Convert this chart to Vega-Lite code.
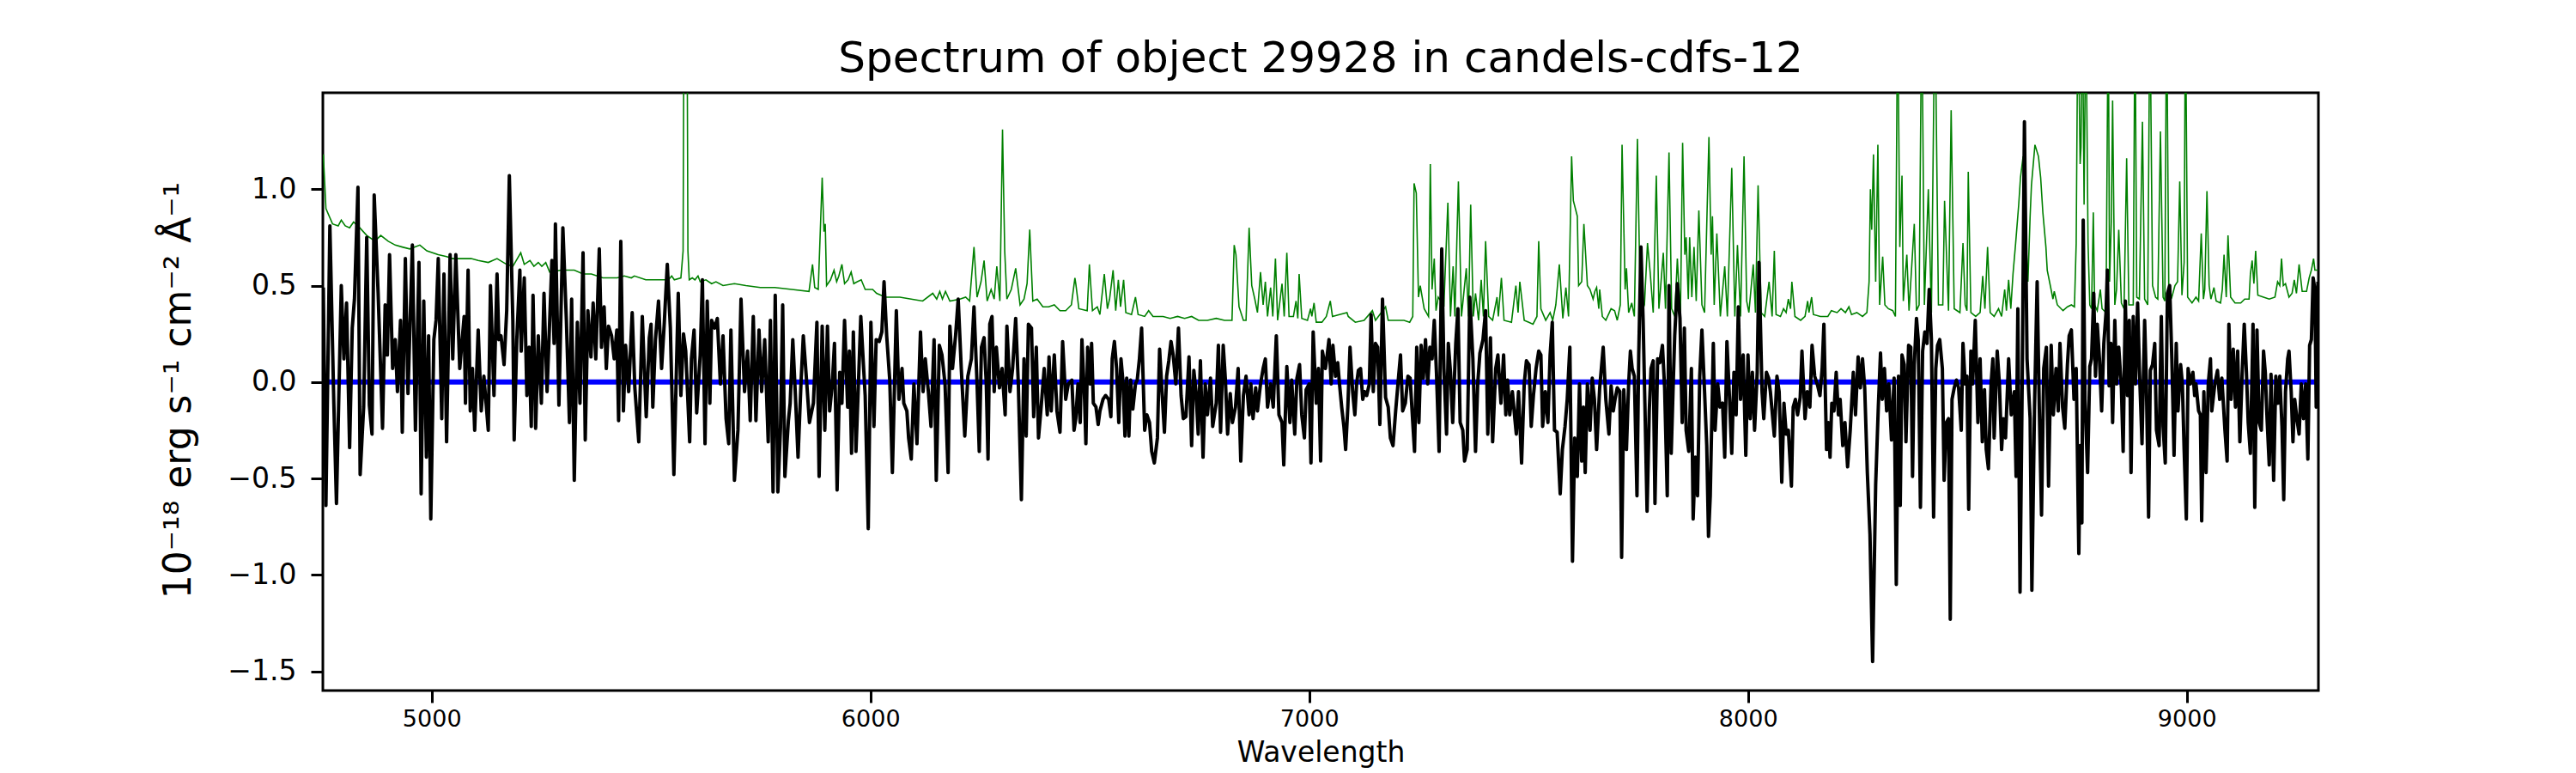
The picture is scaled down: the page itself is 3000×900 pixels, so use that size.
{
  "$schema": "https://vega.github.io/schema/vega-lite/v6.json",
  "autosize": {"type": "none"},
  "padding": {"left": 376, "top": 108, "right": 300, "bottom": 96},
  "width": 2324,
  "height": 696,
  "background": "white",
  "title": {
    "text": "Spectrum of object 29928 in candels-cdfs-12",
    "font": "DejaVu Sans",
    "fontSize": 50,
    "fontWeight": "normal",
    "color": "black",
    "frame": "group",
    "anchor": "middle",
    "baseline": "alphabetic",
    "offset": -26
  },
  "datasets": {
    "flux": [
      {"wl":4753,"flux":0.49},{"wl":4759,"flux":-0.64},{"wl":4768,"flux":0.81},{"wl":4777,"flux":-0.11},{"wl":4783,"flux":-0.63},
      {"wl":4794,"flux":0.50},{"wl":4800,"flux":0.12},{"wl":4806,"flux":0.41},{"wl":4813,"flux":-0.34},{"wl":4819,"flux":0.28},
      {"wl":4824,"flux":0.43},{"wl":4832,"flux":1.01},{"wl":4837,"flux":-0.48},{"wl":4845,"flux":-0.13},{"wl":4852,"flux":0.75},
      {"wl":4858,"flux":-0.12},{"wl":4864,"flux":-0.27},{"wl":4869,"flux":0.97},{"wl":4878,"flux":0.46},{"wl":4888,"flux":-0.24},
      {"wl":4894,"flux":0.40},{"wl":4899,"flux":0.14},{"wl":4904,"flux":0.66},{"wl":4911,"flux":0.07},{"wl":4917,"flux":0.22},
      {"wl":4922,"flux":-0.05},{"wl":4929,"flux":0.32},{"wl":4933,"flux":-0.26},{"wl":4940,"flux":0.64},{"wl":4946,"flux":-0.06},
      {"wl":4956,"flux":0.71},{"wl":4963,"flux":-0.25},{"wl":4971,"flux":0.62},{"wl":4976,"flux":-0.58},{"wl":4982,"flux":0.42},
      {"wl":4988,"flux":-0.39},{"wl":4993,"flux":0.24},{"wl":4998,"flux":-0.71},{"wl":5005,"flux":0.22},{"wl":5010,"flux":0.32},
      {"wl":5015,"flux":0.64},{"wl":5023,"flux":-0.19},{"wl":5028,"flux":0.56},{"wl":5034,"flux":-0.31},{"wl":5042,"flux":0.66},
      {"wl":5048,"flux":0.12},{"wl":5055,"flux":0.66},{"wl":5064,"flux":0.07},{"wl":5074,"flux":0.34},{"wl":5077,"flux":-0.11},
      {"wl":5083,"flux":0.58},{"wl":5088,"flux":-0.15},{"wl":5093,"flux":0.07},{"wl":5098,"flux":-0.25},{"wl":5106,"flux":0.27},
      {"wl":5113,"flux":-0.15},{"wl":5119,"flux":0.03},{"wl":5129,"flux":-0.25},{"wl":5134,"flux":0.50},{"wl":5142,"flux":-0.07},
      {"wl":5149,"flux":0.56},{"wl":5153,"flux":0.22},{"wl":5158,"flux":0.24},{"wl":5165,"flux":0.09},{"wl":5171,"flux":0.37},
      {"wl":5177,"flux":1.07},{"wl":5185,"flux":0.32},{"wl":5188,"flux":-0.30},{"wl":5194,"flux":0.22},{"wl":5201,"flux":0.58},
      {"wl":5204,"flux":0.16},{"wl":5211,"flux":0.54},{"wl":5217,"flux":-0.07},{"wl":5222,"flux":0.18},{"wl":5227,"flux":-0.23},
      {"wl":5231,"flux":0.45},{"wl":5237,"flux":-0.24},{"wl":5243,"flux":0.24},{"wl":5250,"flux":-0.11},{"wl":5256,"flux":0.46},
      {"wl":5263,"flux":-0.05},{"wl":5269,"flux":0.32},{"wl":5274,"flux":0.63},{"wl":5279,"flux":0.20},{"wl":5282,"flux":0.82},
      {"wl":5290,"flux":-0.12},{"wl":5299,"flux":0.80},{"wl":5307,"flux":0.32},{"wl":5314,"flux":-0.21},{"wl":5319,"flux":0.43},
      {"wl":5325,"flux":-0.51},{"wl":5332,"flux":0.31},{"wl":5338,"flux":-0.11},{"wl":5345,"flux":0.67},{"wl":5350,"flux":-0.30},
      {"wl":5356,"flux":0.37},{"wl":5363,"flux":0.13},{"wl":5368,"flux":0.41},{"wl":5374,"flux":0.12},{"wl":5382,"flux":0.69},
      {"wl":5387,"flux":0.18},{"wl":5393,"flux":0.39},{"wl":5398,"flux":0.07},{"wl":5403,"flux":0.29},{"wl":5410,"flux":0.24},
      {"wl":5416,"flux":0.12},{"wl":5422,"flux":0.27},{"wl":5426,"flux":-0.20},{"wl":5431,"flux":0.73},{"wl":5437,"flux":-0.15},
      {"wl":5442,"flux":0.19},{"wl":5449,"flux":-0.05},{"wl":5457,"flux":0.36},{"wl":5463,"flux":-0.03},{"wl":5472,"flux":-0.31},
      {"wl":5480,"flux":0.34},{"wl":5489,"flux":-0.18},{"wl":5496,"flux":0.23},{"wl":5500,"flux":0.30},{"wl":5504,"flux":-0.13},
      {"wl":5510,"flux":0.22},{"wl":5517,"flux":0.42},{"wl":5524,"flux":0.07},{"wl":5530,"flux":0.30},{"wl":5537,"flux":0.61},
      {"wl":5544,"flux":0.28},{"wl":5552,"flux":-0.48},{"wl":5562,"flux":0.46},{"wl":5568,"flux":-0.07},{"wl":5574,"flux":0.25},
      {"wl":5579,"flux":0.16},{"wl":5588,"flux":-0.31},{"wl":5592,"flux":0.12},{"wl":5598,"flux":0.27},{"wl":5604,"flux":-0.16},
      {"wl":5612,"flux":0.14},{"wl":5617,"flux":0.53},{"wl":5623,"flux":-0.32},{"wl":5628,"flux":0.42},{"wl":5634,"flux":-0.11},
      {"wl":5638,"flux":0.32},{"wl":5645,"flux":0.28},{"wl":5651,"flux":0.33},{"wl":5658,"flux":-0.01},{"wl":5664,"flux":0.24},
      {"wl":5671,"flux":-0.19},{"wl":5677,"flux":-0.32},{"wl":5682,"flux":0.27},{"wl":5690,"flux":-0.51},{"wl":5698,"flux":-0.25},
      {"wl":5705,"flux":0.43},{"wl":5713,"flux":-0.05},{"wl":5720,"flux":0.16},{"wl":5726,"flux":-0.20},{"wl":5733,"flux":0.34},
      {"wl":5739,"flux":-0.20},{"wl":5746,"flux":0.27},{"wl":5752,"flux":-0.05},{"wl":5759,"flux":0.22},{"wl":5767,"flux":-0.31},
      {"wl":5772,"flux":0.32},{"wl":5778,"flux":-0.57},{"wl":5783,"flux":0.45},{"wl":5789,"flux":-0.57},{"wl":5795,"flux":-0.24},
      {"wl":5800,"flux":0.40},{"wl":5805,"flux":-0.49},{"wl":5813,"flux":-0.20},{"wl":5817,"flux":-0.11},{"wl":5823,"flux":0.22},
      {"wl":5829,"flux":-0.07},{"wl":5835,"flux":-0.39},{"wl":5842,"flux":0.01},{"wl":5847,"flux":0.24},{"wl":5855,"flux":-0.01},
      {"wl":5861,"flux":-0.21},{"wl":5870,"flux":-0.11},{"wl":5878,"flux":0.31},{"wl":5883,"flux":-0.49},{"wl":5890,"flux":0.29},
      {"wl":5896,"flux":-0.25},{"wl":5902,"flux":0.29},{"wl":5907,"flux":-0.15},{"wl":5913,"flux":-0.01},{"wl":5918,"flux":0.20},
      {"wl":5924,"flux":-0.56},{"wl":5930,"flux":0.05},{"wl":5935,"flux":-0.11},{"wl":5941,"flux":0.32},{"wl":5948,"flux":-0.13},
      {"wl":5952,"flux":0.16},{"wl":5957,"flux":-0.37},{"wl":5961,"flux":0.26},{"wl":5967,"flux":-0.36},{"wl":5972,"flux":-0.05},
      {"wl":5978,"flux":0.34},{"wl":5984,"flux":0.09},{"wl":5988,"flux":-0.07},{"wl":5995,"flux":-0.76},{"wl":6001,"flux":0.31},
      {"wl":6008,"flux":-0.23},{"wl":6013,"flux":0.22},{"wl":6020,"flux":0.21},{"wl":6026,"flux":0.26},{"wl":6031,"flux":0.52},
      {"wl":6037,"flux":0.24},{"wl":6044,"flux":0.01},{"wl":6050,"flux":-0.47},{"wl":6059,"flux":0.37},{"wl":6065,"flux":-0.09},
      {"wl":6072,"flux":0.07},{"wl":6076,"flux":-0.11},{"wl":6083,"flux":-0.15},{"wl":6087,"flux":-0.29},{"wl":6093,"flux":-0.40},
      {"wl":6099,"flux":-0.01},{"wl":6106,"flux":-0.32},{"wl":6114,"flux":0.26},{"wl":6120,"flux":-0.05},{"wl":6125,"flux":0.12},
      {"wl":6132,"flux":-0.05},{"wl":6138,"flux":-0.23},{"wl":6145,"flux":0.22},{"wl":6150,"flux":-0.51},{"wl":6157,"flux":0.19},
      {"wl":6163,"flux":0.14},{"wl":6170,"flux":-0.01},{"wl":6177,"flux":-0.47},{"wl":6181,"flux":0.29},{"wl":6187,"flux":0.07},
      {"wl":6194,"flux":0.24},{"wl":6200,"flux":0.43},{"wl":6207,"flux":0.07},{"wl":6215,"flux":-0.28},{"wl":6222,"flux":0.03},
      {"wl":6230,"flux":0.12},{"wl":6236,"flux":0.39},{"wl":6243,"flux":-0.01},{"wl":6248,"flux":-0.36},{"wl":6253,"flux":0.18},
      {"wl":6259,"flux":0.23},{"wl":6264,"flux":-0.01},{"wl":6268,"flux":-0.40},{"wl":6272,"flux":0.30},{"wl":6277,"flux":0.34},
      {"wl":6282,"flux":-0.05},{"wl":6287,"flux":0.18},{"wl":6294,"flux":-0.03},{"wl":6300,"flux":0.07},{"wl":6307,"flux":-0.17},
      {"wl":6311,"flux":0.29},{"wl":6318,"flux":-0.05},{"wl":6324,"flux":0.07},{"wl":6331,"flux":0.33},{"wl":6337,"flux":-0.01},
      {"wl":6344,"flux":-0.61},{"wl":6350,"flux":0.12},{"wl":6355,"flux":-0.28},{"wl":6360,"flux":0.30},{"wl":6367,"flux":0.28},
      {"wl":6372,"flux":-0.18},{"wl":6378,"flux":0.18},{"wl":6383,"flux":-0.29},{"wl":6389,"flux":-0.13},{"wl":6396,"flux":0.07},
      {"wl":6403,"flux":-0.17},{"wl":6407,"flux":0.13},{"wl":6412,"flux":-0.15},{"wl":6419,"flux":0.14},{"wl":6425,"flux":-0.15},
      {"wl":6432,"flux":-0.26},{"wl":6438,"flux":0.21},{"wl":6445,"flux":-0.09},{"wl":6451,"flux":-0.01},{"wl":6459,"flux":0.01},
      {"wl":6464,"flux":-0.25},{"wl":6468,"flux":-0.19},{"wl":6473,"flux":-0.01},{"wl":6478,"flux":-0.21},{"wl":6482,"flux":0.22},
      {"wl":6488,"flux":-0.09},{"wl":6491,"flux":-0.32},{"wl":6495,"flux":0.18},{"wl":6501,"flux":-0.01},{"wl":6504,"flux":0.20},
      {"wl":6508,"flux":-0.11},{"wl":6514,"flux":-0.13},{"wl":6519,"flux":-0.22},{"wl":6523,"flux":-0.15},{"wl":6530,"flux":-0.09},
      {"wl":6536,"flux":-0.07},{"wl":6543,"flux":-0.09},{"wl":6548,"flux":-0.18},{"wl":6551,"flux":0.12},{"wl":6556,"flux":0.21},
      {"wl":6561,"flux":0.07},{"wl":6566,"flux":-0.21},{"wl":6571,"flux":0.12},{"wl":6576,"flux":-0.01},{"wl":6580,"flux":-0.28},
      {"wl":6584,"flux":0.02},{"wl":6589,"flux":-0.28},{"wl":6593,"flux":0.01},{"wl":6598,"flux":-0.14},{"wl":6604,"flux":-0.01},
      {"wl":6608,"flux":0.01},{"wl":6613,"flux":0.12},{"wl":6618,"flux":0.28},{"wl":6625,"flux":-0.25},{"wl":6630,"flux":-0.17},
      {"wl":6636,"flux":-0.21},{"wl":6641,"flux":-0.36},{"wl":6647,"flux":-0.42},{"wl":6654,"flux":-0.29},{"wl":6659,"flux":0.17},
      {"wl":6665,"flux":-0.07},{"wl":6670,"flux":-0.26},{"wl":6675,"flux":0.03},{"wl":6680,"flux":0.11},{"wl":6685,"flux":0.21},
      {"wl":6690,"flux":0.14},{"wl":6696,"flux":-0.01},{"wl":6702,"flux":0.28},{"wl":6708,"flux":-0.07},{"wl":6713,"flux":-0.19},
      {"wl":6719,"flux":-0.18},{"wl":6726,"flux":0.13},{"wl":6732,"flux":-0.33},{"wl":6737,"flux":0.06},{"wl":6742,"flux":-0.05},
      {"wl":6747,"flux":-0.27},{"wl":6752,"flux":0.11},{"wl":6758,"flux":-0.39},{"wl":6763,"flux":-0.01},{"wl":6768,"flux":-0.17},
      {"wl":6775,"flux":0.02},{"wl":6780,"flux":-0.23},{"wl":6788,"flux":-0.11},{"wl":6793,"flux":0.19},{"wl":6798,"flux":-0.26},
      {"wl":6804,"flux":0.19},{"wl":6809,"flux":0.01},{"wl":6814,"flux":-0.27},{"wl":6820,"flux":-0.06},{"wl":6825,"flux":-0.21},
      {"wl":6832,"flux":-0.13},{"wl":6838,"flux":0.07},{"wl":6844,"flux":-0.41},{"wl":6850,"flux":-0.07},{"wl":6856,"flux":0.03},
      {"wl":6863,"flux":-0.17},{"wl":6867,"flux":-0.01},{"wl":6872,"flux":-0.19},{"wl":6878,"flux":-0.03},{"wl":6882,"flux":-0.15},
      {"wl":6889,"flux":-0.01},{"wl":6895,"flux":0.07},{"wl":6900,"flux":0.12},{"wl":6905,"flux":-0.13},{"wl":6912,"flux":-0.01},
      {"wl":6918,"flux":-0.13},{"wl":6925,"flux":0.24},{"wl":6931,"flux":-0.17},{"wl":6938,"flux":-0.21},{"wl":6942,"flux":-0.43},
      {"wl":6949,"flux":0.08},{"wl":6956,"flux":-0.21},{"wl":6960,"flux":0.01},{"wl":6967,"flux":-0.27},{"wl":6972,"flux":0.02},
      {"wl":6978,"flux":0.09},{"wl":6983,"flux":-0.17},{"wl":6989,"flux":-0.29},{"wl":6993,"flux":-0.04},{"wl":7000,"flux":-0.01},
      {"wl":7004,"flux":-0.42},{"wl":7009,"flux":0.26},{"wl":7016,"flux":-0.11},{"wl":7021,"flux":0.07},{"wl":7026,"flux":-0.41},
      {"wl":7030,"flux":0.16},{"wl":7037,"flux":0.07},{"wl":7040,"flux":0.12},{"wl":7045,"flux":0.22},{"wl":7050,"flux":-0.01},
      {"wl":7054,"flux":0.19},{"wl":7060,"flux":0.03},{"wl":7065,"flux":0.10},{"wl":7069,"flux":-0.01},{"wl":7074,"flux":-0.13},
      {"wl":7079,"flux":-0.23},{"wl":7083,"flux":-0.35},{"wl":7088,"flux":-0.13},{"wl":7093,"flux":0.18},{"wl":7099,"flux":-0.05},
      {"wl":7104,"flux":-0.17},{"wl":7108,"flux":-0.01},{"wl":7112,"flux":0.06},{"wl":7117,"flux":0.07},{"wl":7122,"flux":-0.09},
      {"wl":7126,"flux":-0.05},{"wl":7131,"flux":-0.07},{"wl":7137,"flux":-0.01},{"wl":7141,"flux":0.35},{"wl":7146,"flux":-0.05},
      {"wl":7151,"flux":0.20},{"wl":7156,"flux":0.18},{"wl":7161,"flux":-0.22},{"wl":7167,"flux":0.43},{"wl":7174,"flux":-0.08},
      {"wl":7180,"flux":-0.13},{"wl":7185,"flux":-0.29},{"wl":7191,"flux":-0.33},{"wl":7197,"flux":-0.15},{"wl":7203,"flux":0.01},
      {"wl":7208,"flux":0.14},{"wl":7213,"flux":-0.15},{"wl":7219,"flux":-0.11},{"wl":7225,"flux":0.03},{"wl":7230,"flux":0.02},
      {"wl":7236,"flux":-0.21},{"wl":7240,"flux":-0.36},{"wl":7245,"flux":0.18},{"wl":7250,"flux":-0.21},{"wl":7255,"flux":0.19},
      {"wl":7260,"flux":0.02},{"wl":7265,"flux":0.22},{"wl":7270,"flux":-0.01},{"wl":7275,"flux":0.18},{"wl":7280,"flux":0.12},
      {"wl":7285,"flux":0.32},{"wl":7290,"flux":0.05},{"wl":7296,"flux":-0.36},{"wl":7302,"flux":0.69},{"wl":7307,"flux":0.07},
      {"wl":7313,"flux":-0.27},{"wl":7317,"flux":0.20},{"wl":7322,"flux":0.05},{"wl":7327,"flux":-0.21},{"wl":7334,"flux":0.20},
      {"wl":7339,"flux":0.38},{"wl":7344,"flux":-0.21},{"wl":7350,"flux":-0.25},{"wl":7354,"flux":-0.41},{"wl":7360,"flux":-0.35},
      {"wl":7366,"flux":0.44},{"wl":7373,"flux":0.12},{"wl":7379,"flux":-0.36},{"wl":7384,"flux":-0.01},{"wl":7389,"flux":0.15},
      {"wl":7396,"flux":0.22},{"wl":7402,"flux":0.37},{"wl":7407,"flux":-0.27},{"wl":7413,"flux":0.23},{"wl":7418,"flux":-0.31},
      {"wl":7425,"flux":0.07},{"wl":7430,"flux":0.14},{"wl":7437,"flux":-0.11},{"wl":7443,"flux":0.14},{"wl":7448,"flux":-0.17},
      {"wl":7452,"flux":0.01},{"wl":7457,"flux":-0.17},{"wl":7463,"flux":-0.05},{"wl":7467,"flux":-0.15},{"wl":7472,"flux":-0.27},
      {"wl":7477,"flux":-0.05},{"wl":7484,"flux":-0.42},{"wl":7490,"flux":-0.01},{"wl":7495,"flux":0.11},{"wl":7501,"flux":0.09},
      {"wl":7506,"flux":-0.23},{"wl":7511,"flux":-0.07},{"wl":7517,"flux":0.07},{"wl":7523,"flux":0.16},{"wl":7528,"flux":0.14},
      {"wl":7532,"flux":-0.23},{"wl":7538,"flux":-0.05},{"wl":7544,"flux":-0.21},{"wl":7549,"flux":0.14},{"wl":7554,"flux":0.31},
      {"wl":7559,"flux":-0.25},{"wl":7565,"flux":-0.26},{"wl":7572,"flux":-0.58},{"wl":7577,"flux":-0.35},{"wl":7583,"flux":-0.23},
      {"wl":7588,"flux":-0.09},{"wl":7594,"flux":0.18},{"wl":7600,"flux":-0.93},{"wl":7605,"flux":-0.29},{"wl":7611,"flux":-0.49},
      {"wl":7616,"flux":-0.01},{"wl":7621,"flux":-0.41},{"wl":7625,"flux":-0.13},{"wl":7629,"flux":-0.47},{"wl":7634,"flux":-0.01},
      {"wl":7640,"flux":-0.25},{"wl":7645,"flux":0.02},{"wl":7650,"flux":-0.09},{"wl":7655,"flux":-0.35},{"wl":7662,"flux":-0.03},
      {"wl":7670,"flux":0.18},{"wl":7676,"flux":-0.09},{"wl":7683,"flux":-0.27},{"wl":7688,"flux":-0.02},{"wl":7693,"flux":-0.15},
      {"wl":7697,"flux":-0.09},{"wl":7702,"flux":-0.03},{"wl":7708,"flux":-0.05},{"wl":7712,"flux":-0.91},{"wl":7717,"flux":-0.04},
      {"wl":7723,"flux":-0.35},{"wl":7728,"flux":-0.01},{"wl":7732,"flux":0.16},{"wl":7736,"flux":0.07},{"wl":7741,"flux":0.03},
      {"wl":7747,"flux":-0.59},{"wl":7751,"flux":0.14},{"wl":7756,"flux":0.70},{"wl":7761,"flux":0.32},{"wl":7765,"flux":-0.11},
      {"wl":7770,"flux":-0.67},{"wl":7775,"flux":-0.15},{"wl":7779,"flux":0.07},{"wl":7784,"flux":0.11},{"wl":7788,"flux":-0.63},
      {"wl":7794,"flux":0.12},{"wl":7799,"flux":0.10},{"wl":7805,"flux":0.19},{"wl":7810,"flux":-0.03},{"wl":7816,"flux":-0.59},
      {"wl":7820,"flux":0.50},{"wl":7825,"flux":-0.37},{"wl":7830,"flux":0.02},{"wl":7833,"flux":0.24},{"wl":7839,"flux":0.51},
      {"wl":7845,"flux":0.33},{"wl":7850,"flux":-0.21},{"wl":7855,"flux":0.28},{"wl":7859,"flux":-0.25},{"wl":7865,"flux":-0.36},
      {"wl":7871,"flux":0.07},{"wl":7875,"flux":-0.71},{"wl":7880,"flux":-0.39},{"wl":7885,"flux":-0.59},{"wl":7890,"flux":0.03},
      {"wl":7895,"flux":0.27},{"wl":7901,"flux":-0.05},{"wl":7906,"flux":-0.33},{"wl":7910,"flux":-0.80},{"wl":7914,"flux":-0.59},
      {"wl":7921,"flux":0.20},{"wl":7925,"flux":-0.25},{"wl":7931,"flux":-0.01},{"wl":7936,"flux":-0.13},{"wl":7942,"flux":-0.11},
      {"wl":7947,"flux":-0.39},{"wl":7952,"flux":0.21},{"wl":7958,"flux":-0.09},{"wl":7963,"flux":-0.37},{"wl":7968,"flux":0.05},
      {"wl":7973,"flux":-0.17},{"wl":7978,"flux":0.39},{"wl":7983,"flux":-0.09},{"wl":7989,"flux":0.14},{"wl":7995,"flux":-0.38},
      {"wl":8000,"flux":0.14},{"wl":8005,"flux":-0.19},{"wl":8010,"flux":0.05},{"wl":8015,"flux":-0.25},{"wl":8021,"flux":0.05},
      {"wl":8025,"flux":0.62},{"wl":8032,"flux":-0.05},{"wl":8036,"flux":-0.19},{"wl":8042,"flux":0.05},{"wl":8047,"flux":0.02},
      {"wl":8051,"flux":-0.05},{"wl":8060,"flux":-0.28},{"wl":8066,"flux":0.03},{"wl":8071,"flux":-0.05},{"wl":8077,"flux":-0.52},
      {"wl":8082,"flux":-0.11},{"wl":8087,"flux":-0.27},{"wl":8092,"flux":-0.25},{"wl":8099,"flux":-0.54},{"wl":8103,"flux":-0.13},
      {"wl":8108,"flux":-0.09},{"wl":8113,"flux":-0.17},{"wl":8119,"flux":-0.08},{"wl":8123,"flux":0.16},{"wl":8130,"flux":-0.19},
      {"wl":8135,"flux":-0.05},{"wl":8141,"flux":-0.13},{"wl":8146,"flux":0.19},{"wl":8152,"flux":0.03},{"wl":8159,"flux":-0.02},
      {"wl":8164,"flux":-0.07},{"wl":8169,"flux":0.07},{"wl":8173,"flux":0.30},{"wl":8179,"flux":-0.35},{"wl":8183,"flux":-0.21},
      {"wl":8187,"flux":-0.39},{"wl":8191,"flux":-0.11},{"wl":8196,"flux":-0.15},{"wl":8201,"flux":0.05},{"wl":8206,"flux":-0.17},
      {"wl":8210,"flux":-0.09},{"wl":8216,"flux":-0.33},{"wl":8221,"flux":-0.21},{"wl":8227,"flux":-0.44},{"wl":8233,"flux":-0.25},
      {"wl":8240,"flux":0.05},{"wl":8245,"flux":-0.17},{"wl":8251,"flux":0.13},{"wl":8256,"flux":-0.03},{"wl":8261,"flux":0.12},
      {"wl":8266,"flux":-0.03},{"wl":8272,"flux":-0.47},{"wl":8278,"flux":-0.79},{"wl":8284,"flux":-1.45},{"wl":8291,"flux":-0.53},
      {"wl":8297,"flux":-0.13},{"wl":8302,"flux":0.15},{"wl":8306,"flux":-0.09},{"wl":8311,"flux":0.07},{"wl":8316,"flux":-0.15},
      {"wl":8321,"flux":-0.01},{"wl":8327,"flux":-0.30},{"wl":8333,"flux":0.02},{"wl":8338,"flux":-1.05},{"wl":8343,"flux":0.03},
      {"wl":8347,"flux":-0.64},{"wl":8351,"flux":0.14},{"wl":8356,"flux":0.09},{"wl":8360,"flux":-0.31},{"wl":8366,"flux":0.19},
      {"wl":8371,"flux":0.18},{"wl":8375,"flux":-0.49},{"wl":8379,"flux":0.09},{"wl":8384,"flux":0.33},{"wl":8388,"flux":0.22},
      {"wl":8393,"flux":-0.65},{"wl":8398,"flux":0.16},{"wl":8403,"flux":0.26},{"wl":8408,"flux":0.20},{"wl":8413,"flux":0.48},
      {"wl":8418,"flux":0.22},{"wl":8423,"flux":-0.70},{"wl":8428,"flux":0.07},{"wl":8432,"flux":0.19},{"wl":8437,"flux":0.22},
      {"wl":8443,"flux":0.07},{"wl":8447,"flux":-0.51},{"wl":8452,"flux":-0.21},{"wl":8457,"flux":-0.19},{"wl":8461,"flux":-1.23},
      {"wl":8465,"flux":-0.09},{"wl":8470,"flux":-0.03},{"wl":8475,"flux":0.01},{"wl":8480,"flux":-0.03},{"wl":8486,"flux":-0.25},
      {"wl":8490,"flux":0.20},{"wl":8495,"flux":-0.01},{"wl":8499,"flux":0.03},{"wl":8503,"flux":-0.66},{"wl":8508,"flux":0.16},
      {"wl":8512,"flux":-0.01},{"wl":8518,"flux":0.32},{"wl":8524,"flux":-0.21},{"wl":8529,"flux":0.12},{"wl":8534,"flux":-0.31},
      {"wl":8539,"flux":-0.04},{"wl":8543,"flux":-0.35},{"wl":8548,"flux":-0.45},{"wl":8554,"flux":-0.01},{"wl":8558,"flux":0.12},
      {"wl":8561,"flux":-0.29},{"wl":8568,"flux":0.16},{"wl":8573,"flux":-0.01},{"wl":8578,"flux":-0.35},{"wl":8582,"flux":-0.19},
      {"wl":8587,"flux":-0.29},{"wl":8594,"flux":0.12},{"wl":8600,"flux":-0.17},{"wl":8607,"flux":-0.05},{"wl":8611,"flux":-0.49},
      {"wl":8615,"flux":0.38},{"wl":8620,"flux":-1.09},{"wl":8625,"flux":0.01},{"wl":8630,"flux":1.35},{"wl":8636,"flux":0.12},
      {"wl":8643,"flux":-0.19},{"wl":8647,"flux":-1.08},{"wl":8653,"flux":-0.13},{"wl":8659,"flux":0.52},{"wl":8664,"flux":-0.15},
      {"wl":8669,"flux":-0.69},{"wl":8674,"flux":0.07},{"wl":8680,"flux":0.18},{"wl":8685,"flux":-0.54},{"wl":8691,"flux":0.19},
      {"wl":8696,"flux":-0.17},{"wl":8702,"flux":0.07},{"wl":8707,"flux":-0.15},{"wl":8711,"flux":0.20},{"wl":8717,"flux":-0.13},
      {"wl":8722,"flux":-0.24},{"wl":8728,"flux":0.09},{"wl":8732,"flux":0.24},{"wl":8737,"flux":0.27},{"wl":8743,"flux":-0.09},
      {"wl":8748,"flux":0.07},{"wl":8754,"flux":-0.89},{"wl":8757,"flux":-0.33},{"wl":8761,"flux":-0.73},{"wl":8764,"flux":0.84},
      {"wl":8768,"flux":-0.09},{"wl":8774,"flux":-0.47},{"wl":8779,"flux":0.08},{"wl":8783,"flux":0.12},{"wl":8788,"flux":0.46},
      {"wl":8792,"flux":0.03},{"wl":8796,"flux":0.30},{"wl":8801,"flux":0.12},{"wl":8806,"flux":-0.15},{"wl":8811,"flux":0.20},
      {"wl":8816,"flux":0.36},{"wl":8819,"flux":0.58},{"wl":8823,"flux":-0.02},{"wl":8827,"flux":0.20},{"wl":8831,"flux":-0.21},
      {"wl":8836,"flux":0.32},{"wl":8840,"flux":-0.01},{"wl":8845,"flux":0.18},{"wl":8851,"flux":-0.03},{"wl":8855,"flux":-0.36},
      {"wl":8860,"flux":0.42},{"wl":8865,"flux":-0.07},{"wl":8869,"flux":0.32},{"wl":8873,"flux":-0.47},{"wl":8878,"flux":0.34},
      {"wl":8883,"flux":-0.01},{"wl":8888,"flux":0.41},{"wl":8892,"flux":0.07},{"wl":8898,"flux":-0.32},{"wl":8904,"flux":0.32},
      {"wl":8908,"flux":-0.01},{"wl":8913,"flux":-0.70},{"wl":8917,"flux":0.06},{"wl":8922,"flux":0.09},{"wl":8927,"flux":0.20},
      {"wl":8931,"flux":-0.25},{"wl":8937,"flux":-0.33},{"wl":8942,"flux":0.34},{"wl":8946,"flux":-0.23},{"wl":8951,"flux":-0.42},
      {"wl":8956,"flux":0.46},{"wl":8961,"flux":0.50},{"wl":8966,"flux":0.12},{"wl":8971,"flux":-0.38},{"wl":8976,"flux":0.20},
      {"wl":8980,"flux":-0.15},{"wl":8986,"flux":0.09},{"wl":8990,"flux":-0.01},{"wl":8994,"flux":-0.35},{"wl":8999,"flux":-0.71},
      {"wl":9003,"flux":0.07},{"wl":9008,"flux":-0.01},{"wl":9014,"flux":0.05},{"wl":9018,"flux":-0.07},{"wl":9021,"flux":-0.01},
      {"wl":9027,"flux":-0.15},{"wl":9031,"flux":-0.17},{"wl":9034,"flux":-0.72},{"wl":9039,"flux":-0.05},{"wl":9044,"flux":-0.47},
      {"wl":9049,"flux":-0.01},{"wl":9054,"flux":0.12},{"wl":9057,"flux":-0.15},{"wl":9064,"flux":-0.01},{"wl":9070,"flux":0.06},
      {"wl":9075,"flux":-0.09},{"wl":9080,"flux":0.02},{"wl":9087,"flux":-0.25},{"wl":9092,"flux":-0.41},{"wl":9096,"flux":0.30},
      {"wl":9101,"flux":-0.09},{"wl":9106,"flux":0.17},{"wl":9111,"flux":-0.13},{"wl":9116,"flux":0.16},{"wl":9121,"flux":-0.31},
      {"wl":9126,"flux":0.03},{"wl":9131,"flux":0.30},{"wl":9136,"flux":0.05},{"wl":9140,"flux":-0.21},{"wl":9145,"flux":-0.37},
      {"wl":9151,"flux":0.30},{"wl":9155,"flux":-0.65},{"wl":9160,"flux":0.27},{"wl":9165,"flux":-0.21},{"wl":9170,"flux":-0.25},
      {"wl":9175,"flux":0.16},{"wl":9179,"flux":0.05},{"wl":9183,"flux":-0.19},{"wl":9188,"flux":-0.43},{"wl":9192,"flux":0.04},
      {"wl":9198,"flux":-0.51},{"wl":9203,"flux":0.03},{"wl":9208,"flux":-0.11},{"wl":9212,"flux":0.03},{"wl":9217,"flux":-0.23},
      {"wl":9221,"flux":-0.61},{"wl":9225,"flux":-0.05},{"wl":9230,"flux":0.12},{"wl":9233,"flux":0.16},{"wl":9238,"flux":-0.05},
      {"wl":9242,"flux":-0.31},{"wl":9246,"flux":-0.09},{"wl":9251,"flux":-0.19},{"wl":9256,"flux":-0.27},{"wl":9261,"flux":-0.01},
      {"wl":9266,"flux":-0.19},{"wl":9271,"flux":-0.01},{"wl":9276,"flux":-0.40},{"wl":9280,"flux":0.19},{"wl":9284,"flux":0.22},
      {"wl":9288,"flux":0.54},{"wl":9292,"flux":0.48},{"wl":9295,"flux":-0.13},{"wl":9299,"flux":0.52}
    ],
    "noise": [
      {"wl":4753,"flux":1.18},{"wl":4759,"flux":0.90},{"wl":4774,"flux":0.82},{"wl":4787,"flux":0.81},{"wl":4794,"flux":0.84},
      {"wl":4803,"flux":0.81},{"wl":4813,"flux":0.80},{"wl":4822,"flux":0.83},{"wl":4836,"flux":0.80},{"wl":4852,"flux":0.76},
      {"wl":4865,"flux":0.74},{"wl":4875,"flux":0.74},{"wl":4884,"flux":0.76},{"wl":4901,"flux":0.73},{"wl":4917,"flux":0.71},
      {"wl":4933,"flux":0.70},{"wl":4950,"flux":0.69},{"wl":4973,"flux":0.71},{"wl":4989,"flux":0.68},{"wl":5015,"flux":0.66},
      {"wl":5034,"flux":0.65},{"wl":5048,"flux":0.64},{"wl":5067,"flux":0.64},{"wl":5090,"flux":0.64},{"wl":5106,"flux":0.63},
      {"wl":5129,"flux":0.62},{"wl":5149,"flux":0.64},{"wl":5171,"flux":0.61},{"wl":5185,"flux":0.60},{"wl":5203,"flux":0.67},
      {"wl":5211,"flux":0.61},{"wl":5224,"flux":0.63},{"wl":5233,"flux":0.60},{"wl":5243,"flux":0.62},{"wl":5251,"flux":0.60},
      {"wl":5260,"flux":0.62},{"wl":5269,"flux":0.57},{"wl":5295,"flux":0.58},{"wl":5325,"flux":0.58},{"wl":5345,"flux":0.56},
      {"wl":5364,"flux":0.56},{"wl":5390,"flux":0.54},{"wl":5423,"flux":0.54},{"wl":5439,"flux":0.55},{"wl":5455,"flux":0.54},
      {"wl":5462,"flux":0.55},{"wl":5488,"flux":0.53},{"wl":5521,"flux":0.53},{"wl":5540,"flux":0.53},{"wl":5547,"flux":0.55},
      {"wl":5553,"flux":0.53},{"wl":5568,"flux":0.54},{"wl":5573,"flux":0.68},{"wl":5576,"flux":2.6},{"wl":5581,"flux":2.6},
      {"wl":5584,"flux":0.68},{"wl":5587,"flux":0.53},{"wl":5594,"flux":0.54},{"wl":5600,"flux":0.53},{"wl":5607,"flux":0.55},
      {"wl":5612,"flux":0.52},{"wl":5625,"flux":0.53},{"wl":5638,"flux":0.51},{"wl":5648,"flux":0.52},{"wl":5664,"flux":0.50},
      {"wl":5690,"flux":0.51},{"wl":5716,"flux":0.50},{"wl":5749,"flux":0.49},{"wl":5782,"flux":0.49},{"wl":5821,"flux":0.48},
      {"wl":5860,"flux":0.47},{"wl":5868,"flux":0.61},{"wl":5873,"flux":0.49},{"wl":5881,"flux":0.48},{"wl":5890,"flux":1.06},
      {"wl":5894,"flux":0.78},{"wl":5897,"flux":0.82},{"wl":5900,"flux":0.50},{"wl":5909,"flux":0.53},{"wl":5917,"flux":0.58},
      {"wl":5923,"flux":0.52},{"wl":5928,"flux":0.55},{"wl":5935,"flux":0.61},{"wl":5941,"flux":0.51},{"wl":5949,"flux":0.53},
      {"wl":5956,"flux":0.57},{"wl":5962,"flux":0.51},{"wl":5970,"flux":0.52},{"wl":5979,"flux":0.53},{"wl":5988,"flux":0.48},
      {"wl":6005,"flux":0.48},{"wl":6014,"flux":0.46},{"wl":6034,"flux":0.44},{"wl":6067,"flux":0.44},{"wl":6093,"flux":0.43},
      {"wl":6119,"flux":0.42},{"wl":6142,"flux":0.46},{"wl":6151,"flux":0.43},{"wl":6158,"flux":0.47},{"wl":6164,"flux":0.43},
      {"wl":6171,"flux":0.47},{"wl":6181,"flux":0.42},{"wl":6204,"flux":0.43},{"wl":6217,"flux":0.44},{"wl":6226,"flux":0.42},
      {"wl":6236,"flux":0.70},{"wl":6243,"flux":0.44},{"wl":6252,"flux":0.52},{"wl":6259,"flux":0.63},{"wl":6266,"flux":0.42},
      {"wl":6275,"flux":0.48},{"wl":6282,"flux":0.43},{"wl":6288,"flux":0.60},{"wl":6295,"flux":0.42},{"wl":6301,"flux":1.31},
      {"wl":6306,"flux":0.68},{"wl":6311,"flux":0.43},{"wl":6321,"flux":0.48},{"wl":6331,"flux":0.59},{"wl":6341,"flux":0.40},
      {"wl":6350,"flux":0.43},{"wl":6357,"flux":0.51},{"wl":6363,"flux":0.79},{"wl":6370,"flux":0.42},{"wl":6380,"flux":0.43},
      {"wl":6393,"flux":0.39},{"wl":6406,"flux":0.39},{"wl":6419,"flux":0.40},{"wl":6432,"flux":0.37},{"wl":6445,"flux":0.37},
      {"wl":6458,"flux":0.40},{"wl":6466,"flux":0.54},{"wl":6468,"flux":0.51},{"wl":6475,"flux":0.38},{"wl":6494,"flux":0.37},
      {"wl":6499,"flux":0.61},{"wl":6506,"flux":0.37},{"wl":6517,"flux":0.39},{"wl":6523,"flux":0.35},{"wl":6533,"flux":0.56},
      {"wl":6540,"flux":0.38},{"wl":6545,"flux":0.43},{"wl":6553,"flux":0.58},{"wl":6559,"flux":0.37},{"wl":6565,"flux":0.53},
      {"wl":6570,"flux":0.39},{"wl":6577,"flux":0.53},{"wl":6582,"flux":0.36},{"wl":6595,"flux":0.35},{"wl":6604,"flux":0.44},
      {"wl":6610,"flux":0.35},{"wl":6625,"flux":0.34},{"wl":6634,"flux":0.37},{"wl":6644,"flux":0.34},{"wl":6667,"flux":0.34},
      {"wl":6683,"flux":0.33},{"wl":6700,"flux":0.34},{"wl":6716,"flux":0.33},{"wl":6732,"flux":0.34},{"wl":6748,"flux":0.32},
      {"wl":6768,"flux":0.32},{"wl":6788,"flux":0.33},{"wl":6807,"flux":0.32},{"wl":6824,"flux":0.32},{"wl":6829,"flux":0.71},
      {"wl":6833,"flux":0.66},{"wl":6840,"flux":0.39},{"wl":6850,"flux":0.32},{"wl":6856,"flux":0.32},{"wl":6863,"flux":0.80},
      {"wl":6869,"flux":0.50},{"wl":6876,"flux":0.43},{"wl":6882,"flux":0.36},{"wl":6889,"flux":0.57},{"wl":6895,"flux":0.40},
      {"wl":6900,"flux":0.52},{"wl":6905,"flux":0.34},{"wl":6912,"flux":0.49},{"wl":6917,"flux":0.34},{"wl":6923,"flux":0.64},
      {"wl":6928,"flux":0.32},{"wl":6938,"flux":0.51},{"wl":6943,"flux":0.34},{"wl":6949,"flux":0.67},{"wl":6954,"flux":0.34},
      {"wl":6964,"flux":0.34},{"wl":6970,"flux":0.42},{"wl":6974,"flux":0.33},{"wl":6977,"flux":0.56},{"wl":6983,"flux":0.33},
      {"wl":6996,"flux":0.32},{"wl":7003,"flux":0.38},{"wl":7006,"flux":0.34},{"wl":7011,"flux":0.41},{"wl":7016,"flux":0.31},
      {"wl":7029,"flux":0.31},{"wl":7039,"flux":0.34},{"wl":7048,"flux":0.42},{"wl":7053,"flux":0.34},{"wl":7069,"flux":0.35},
      {"wl":7086,"flux":0.36},{"wl":7089,"flux":0.34},{"wl":7105,"flux":0.31},{"wl":7125,"flux":0.32},{"wl":7144,"flux":0.37},
      {"wl":7151,"flux":0.32},{"wl":7174,"flux":0.39},{"wl":7180,"flux":0.32},{"wl":7197,"flux":0.32},{"wl":7216,"flux":0.32},
      {"wl":7229,"flux":0.31},{"wl":7236,"flux":0.34},{"wl":7239,"flux":1.03},{"wl":7244,"flux":0.98},{"wl":7249,"flux":0.44},
      {"wl":7253,"flux":0.50},{"wl":7262,"flux":0.38},{"wl":7272,"flux":0.34},{"wl":7276,"flux":1.13},{"wl":7280,"flux":0.48},
      {"wl":7285,"flux":0.64},{"wl":7289,"flux":0.37},{"wl":7294,"flux":0.44},{"wl":7307,"flux":0.40},{"wl":7316,"flux":0.93},
      {"wl":7322,"flux":0.34},{"wl":7328,"flux":0.60},{"wl":7332,"flux":0.34},{"wl":7340,"flux":1.04},{"wl":7347,"flux":0.34},
      {"wl":7358,"flux":0.59},{"wl":7363,"flux":0.34},{"wl":7368,"flux":0.92},{"wl":7374,"flux":0.34},{"wl":7379,"flux":0.46},
      {"wl":7386,"flux":0.32},{"wl":7392,"flux":0.53},{"wl":7397,"flux":0.34},{"wl":7402,"flux":0.73},{"wl":7409,"flux":0.34},
      {"wl":7418,"flux":0.32},{"wl":7428,"flux":0.44},{"wl":7431,"flux":0.34},{"wl":7438,"flux":0.54},{"wl":7444,"flux":0.32},
      {"wl":7461,"flux":0.31},{"wl":7471,"flux":0.50},{"wl":7476,"flux":0.36},{"wl":7480,"flux":0.52},{"wl":7490,"flux":0.32},
      {"wl":7510,"flux":0.30},{"wl":7519,"flux":0.34},{"wl":7523,"flux":0.73},{"wl":7528,"flux":0.38},{"wl":7539,"flux":0.32},
      {"wl":7549,"flux":0.36},{"wl":7555,"flux":0.32},{"wl":7562,"flux":0.40},{"wl":7570,"flux":0.61},{"wl":7578,"flux":0.33},
      {"wl":7585,"flux":0.49},{"wl":7591,"flux":0.34},{"wl":7598,"flux":1.17},{"wl":7602,"flux":0.94},{"wl":7611,"flux":0.86},
      {"wl":7614,"flux":0.50},{"wl":7621,"flux":0.52},{"wl":7626,"flux":0.82},{"wl":7634,"flux":0.50},{"wl":7640,"flux":0.48},
      {"wl":7647,"flux":0.43},{"wl":7651,"flux":0.47},{"wl":7655,"flux":0.49},{"wl":7660,"flux":0.38},{"wl":7662,"flux":0.48},
      {"wl":7668,"flux":0.34},{"wl":7676,"flux":0.32},{"wl":7688,"flux":0.38},{"wl":7696,"flux":0.37},{"wl":7702,"flux":0.32},
      {"wl":7709,"flux":0.40},{"wl":7713,"flux":1.23},{"wl":7720,"flux":0.48},{"wl":7723,"flux":0.59},{"wl":7728,"flux":0.36},
      {"wl":7735,"flux":0.41},{"wl":7741,"flux":0.34},{"wl":7748,"flux":1.26},{"wl":7755,"flux":0.34},{"wl":7764,"flux":0.40},
      {"wl":7771,"flux":0.72},{"wl":7777,"flux":0.57},{"wl":7784,"flux":0.36},{"wl":7791,"flux":1.07},{"wl":7797,"flux":0.38},
      {"wl":7807,"flux":0.67},{"wl":7812,"flux":0.38},{"wl":7820,"flux":1.19},{"wl":7826,"flux":0.38},{"wl":7833,"flux":0.34},
      {"wl":7839,"flux":0.64},{"wl":7846,"flux":0.34},{"wl":7851,"flux":1.24},{"wl":7856,"flux":0.66},{"wl":7859,"flux":0.75},
      {"wl":7864,"flux":0.43},{"wl":7867,"flux":0.75},{"wl":7872,"flux":0.44},{"wl":7877,"flux":0.70},{"wl":7882,"flux":0.42},
      {"wl":7888,"flux":0.89},{"wl":7895,"flux":0.40},{"wl":7901,"flux":0.36},{"wl":7911,"flux":1.27},{"wl":7916,"flux":0.66},
      {"wl":7919,"flux":0.86},{"wl":7923,"flux":0.40},{"wl":7929,"flux":0.77},{"wl":7937,"flux":0.34},{"wl":7947,"flux":0.60},
      {"wl":7953,"flux":0.34},{"wl":7963,"flux":1.11},{"wl":7970,"flux":0.34},{"wl":7976,"flux":0.71},{"wl":7983,"flux":0.34},
      {"wl":7991,"flux":1.17},{"wl":7997,"flux":0.42},{"wl":8002,"flux":0.36},{"wl":8012,"flux":0.61},{"wl":8017,"flux":0.36},
      {"wl":8023,"flux":1.02},{"wl":8030,"flux":0.36},{"wl":8038,"flux":0.34},{"wl":8048,"flux":0.52},{"wl":8055,"flux":0.34},
      {"wl":8060,"flux":0.68},{"wl":8064,"flux":0.35},{"wl":8074,"flux":0.34},{"wl":8081,"flux":0.38},{"wl":8087,"flux":0.36},
      {"wl":8092,"flux":0.43},{"wl":8097,"flux":0.38},{"wl":8100,"flux":0.52},{"wl":8107,"flux":0.34},{"wl":8120,"flux":0.32},
      {"wl":8130,"flux":0.34},{"wl":8136,"flux":0.42},{"wl":8139,"flux":0.36},{"wl":8145,"flux":0.44},{"wl":8149,"flux":0.35},
      {"wl":8165,"flux":0.34},{"wl":8182,"flux":0.34},{"wl":8190,"flux":0.37},{"wl":8203,"flux":0.36},{"wl":8212,"flux":0.38},
      {"wl":8222,"flux":0.36},{"wl":8230,"flux":0.39},{"wl":8236,"flux":0.35},{"wl":8248,"flux":0.36},{"wl":8261,"flux":0.34},
      {"wl":8271,"flux":0.36},{"wl":8276,"flux":0.52},{"wl":8279,"flux":1.00},{"wl":8282,"flux":0.79},{"wl":8286,"flux":1.18},
      {"wl":8291,"flux":0.52},{"wl":8296,"flux":1.23},{"wl":8300,"flux":0.40},{"wl":8307,"flux":0.65},{"wl":8312,"flux":0.40},
      {"wl":8320,"flux":0.38},{"wl":8330,"flux":0.37},{"wl":8336,"flux":0.34},{"wl":8341,"flux":2.0},{"wl":8346,"flux":0.70},
      {"wl":8351,"flux":1.07},{"wl":8354,"flux":0.42},{"wl":8362,"flux":0.66},{"wl":8367,"flux":0.37},{"wl":8379,"flux":0.82},
      {"wl":8384,"flux":0.37},{"wl":8390,"flux":0.40},{"wl":8396,"flux":2.0},{"wl":8402,"flux":0.40},{"wl":8411,"flux":1.00},
      {"wl":8418,"flux":0.36},{"wl":8426,"flux":2.0},{"wl":8434,"flux":0.40},{"wl":8444,"flux":0.40},{"wl":8448,"flux":0.94},
      {"wl":8457,"flux":0.37},{"wl":8463,"flux":1.41},{"wl":8470,"flux":0.38},{"wl":8483,"flux":0.36},{"wl":8490,"flux":0.72},
      {"wl":8495,"flux":0.40},{"wl":8499,"flux":0.37},{"wl":8502,"flux":1.09},{"wl":8508,"flux":0.36},{"wl":8519,"flux":0.34},
      {"wl":8529,"flux":0.36},{"wl":8535,"flux":0.55},{"wl":8540,"flux":0.38},{"wl":8546,"flux":0.70},{"wl":8552,"flux":0.36},
      {"wl":8561,"flux":0.34},{"wl":8571,"flux":0.38},{"wl":8578,"flux":0.34},{"wl":8585,"flux":0.48},{"wl":8589,"flux":0.37},
      {"wl":8594,"flux":0.53},{"wl":8599,"flux":0.38},{"wl":8604,"flux":0.56},{"wl":8610,"flux":0.72},{"wl":8617,"flux":0.92},
      {"wl":8621,"flux":1.06},{"wl":8627,"flux":1.17},{"wl":8633,"flux":0.76},{"wl":8638,"flux":0.52},{"wl":8643,"flux":0.86},
      {"wl":8646,"flux":1.02},{"wl":8654,"flux":1.23},{"wl":8662,"flux":1.17},{"wl":8667,"flux":1.06},{"wl":8672,"flux":0.88},
      {"wl":8679,"flux":0.70},{"wl":8682,"flux":0.58},{"wl":8689,"flux":0.50},{"wl":8695,"flux":0.43},{"wl":8698,"flux":0.47},
      {"wl":8705,"flux":0.40},{"wl":8718,"flux":0.37},{"wl":8728,"flux":0.39},{"wl":8737,"flux":0.40},{"wl":8744,"flux":0.39},
      {"wl":8748,"flux":0.72},{"wl":8752,"flux":2.0},{"wl":8757,"flux":1.13},{"wl":8759,"flux":1.22},{"wl":8762,"flux":2.0},
      {"wl":8766,"flux":0.92},{"wl":8770,"flux":2.0},{"wl":8775,"flux":0.72},{"wl":8779,"flux":0.40},{"wl":8783,"flux":0.38},
      {"wl":8787,"flux":0.88},{"wl":8790,"flux":0.40},{"wl":8796,"flux":0.37},{"wl":8803,"flux":0.48},{"wl":8807,"flux":0.38},
      {"wl":8816,"flux":0.36},{"wl":8821,"flux":2.0},{"wl":8824,"flux":0.52},{"wl":8828,"flux":0.83},{"wl":8831,"flux":1.46},
      {"wl":8836,"flux":0.40},{"wl":8840,"flux":0.48},{"wl":8845,"flux":0.79},{"wl":8851,"flux":0.41},{"wl":8857,"flux":0.38},
      {"wl":8863,"flux":1.16},{"wl":8868,"flux":0.40},{"wl":8878,"flux":0.40},{"wl":8882,"flux":2.0},{"wl":8886,"flux":0.44},
      {"wl":8892,"flux":0.43},{"wl":8899,"flux":1.35},{"wl":8904,"flux":0.43},{"wl":8911,"flux":0.40},{"wl":8916,"flux":2.0},
      {"wl":8922,"flux":0.50},{"wl":8929,"flux":0.44},{"wl":8934,"flux":0.43},{"wl":8940,"flux":1.30},{"wl":8946,"flux":0.44},
      {"wl":8950,"flux":0.42},{"wl":8954,"flux":2.0},{"wl":8959,"flux":0.48},{"wl":8966,"flux":0.44},{"wl":8973,"flux":0.50},
      {"wl":8979,"flux":0.52},{"wl":8984,"flux":1.04},{"wl":8989,"flux":0.45},{"wl":8994,"flux":0.62},{"wl":8997,"flux":2.0},
      {"wl":9002,"flux":0.44},{"wl":9012,"flux":0.41},{"wl":9021,"flux":0.44},{"wl":9027,"flux":0.42},{"wl":9033,"flux":0.77},
      {"wl":9038,"flux":0.43},{"wl":9041,"flux":0.48},{"wl":9046,"flux":0.99},{"wl":9051,"flux":0.50},{"wl":9055,"flux":0.43},
      {"wl":9062,"flux":0.49},{"wl":9067,"flux":0.42},{"wl":9077,"flux":0.41},{"wl":9081,"flux":0.48},{"wl":9085,"flux":0.66},
      {"wl":9090,"flux":0.44},{"wl":9094,"flux":0.76},{"wl":9100,"flux":0.44},{"wl":9110,"flux":0.41},{"wl":9123,"flux":0.41},
      {"wl":9132,"flux":0.43},{"wl":9142,"flux":0.43},{"wl":9145,"flux":0.56},{"wl":9149,"flux":0.63},{"wl":9153,"flux":0.51},
      {"wl":9157,"flux":0.68},{"wl":9162,"flux":0.45},{"wl":9175,"flux":0.44},{"wl":9188,"flux":0.43},{"wl":9201,"flux":0.44},
      {"wl":9207,"flux":0.52},{"wl":9212,"flux":0.50},{"wl":9216,"flux":0.64},{"wl":9220,"flux":0.50},{"wl":9225,"flux":0.51},
      {"wl":9233,"flux":0.44},{"wl":9240,"flux":0.46},{"wl":9245,"flux":0.53},{"wl":9250,"flux":0.46},{"wl":9256,"flux":0.61},
      {"wl":9263,"flux":0.47},{"wl":9273,"flux":0.47},{"wl":9279,"flux":0.54},{"wl":9284,"flux":0.58},{"wl":9289,"flux":0.64},
      {"wl":9292,"flux":0.58},{"wl":9299,"flux":0.58}
    ],
    "model": [
      {"wl":4752,"flux":0},{"wl":9300,"flux":0}
    ]
  },
  "encoding": {
    "x": {
      "field": "wl",
      "type": "quantitative",
      "scale": {"domain": [4752, 9300], "nice": false, "zero": false},
      "axis": {
        "title": "Wavelength",
        "values": [5000, 6000, 7000, 8000, 9000],
        "format": "d",
        "labelFontSize": 27,
        "titleFontSize": 33,
        "labelPadding": 6,
        "titlePadding": 10
      }
    },
    "y": {
      "field": "flux",
      "type": "quantitative",
      "scale": {"domain": [-1.6, 1.5], "nice": false, "zero": false},
      "axis": {
        "title": "10⁻¹⁸ erg s⁻¹ cm⁻² Å⁻¹",
        "values": [-1.5, -1, -0.5, 0, 0.5, 1],
        "format": ".1f",
        "labelFontSize": 33,
        "titleFontSize": 44,
        "labelPadding": 17,
        "titleX": -168,
        "titleY": 346,
        "titleAngle": -90,
        "titleAlign": "center",
        "titleBaseline": "middle"
      }
    }
  },
  "layer": [
    {
      "data": {"name": "noise"},
      "mark": {"type": "line", "color": "#008000", "strokeWidth": 1.6, "clip": true}
    },
    {
      "data": {"name": "model"},
      "mark": {"type": "line", "color": "#0000ff", "strokeWidth": 6, "clip": true}
    },
    {
      "data": {"name": "flux"},
      "mark": {"type": "line", "color": "black", "strokeWidth": 4, "strokeJoin": "round", "clip": true}
    }
  ],
  "config": {
    "font": "DejaVu Sans",
    "view": {"stroke": "black", "strokeWidth": 3},
    "axis": {
      "grid": false,
      "domain": false,
      "ticks": true,
      "tickColor": "black",
      "tickWidth": 3,
      "tickSize": 14,
      "labelColor": "black",
      "labelFont": "DejaVu Sans",
      "titleColor": "black",
      "titleFont": "DejaVu Sans",
      "titleFontWeight": "normal"
    }
  }
}
